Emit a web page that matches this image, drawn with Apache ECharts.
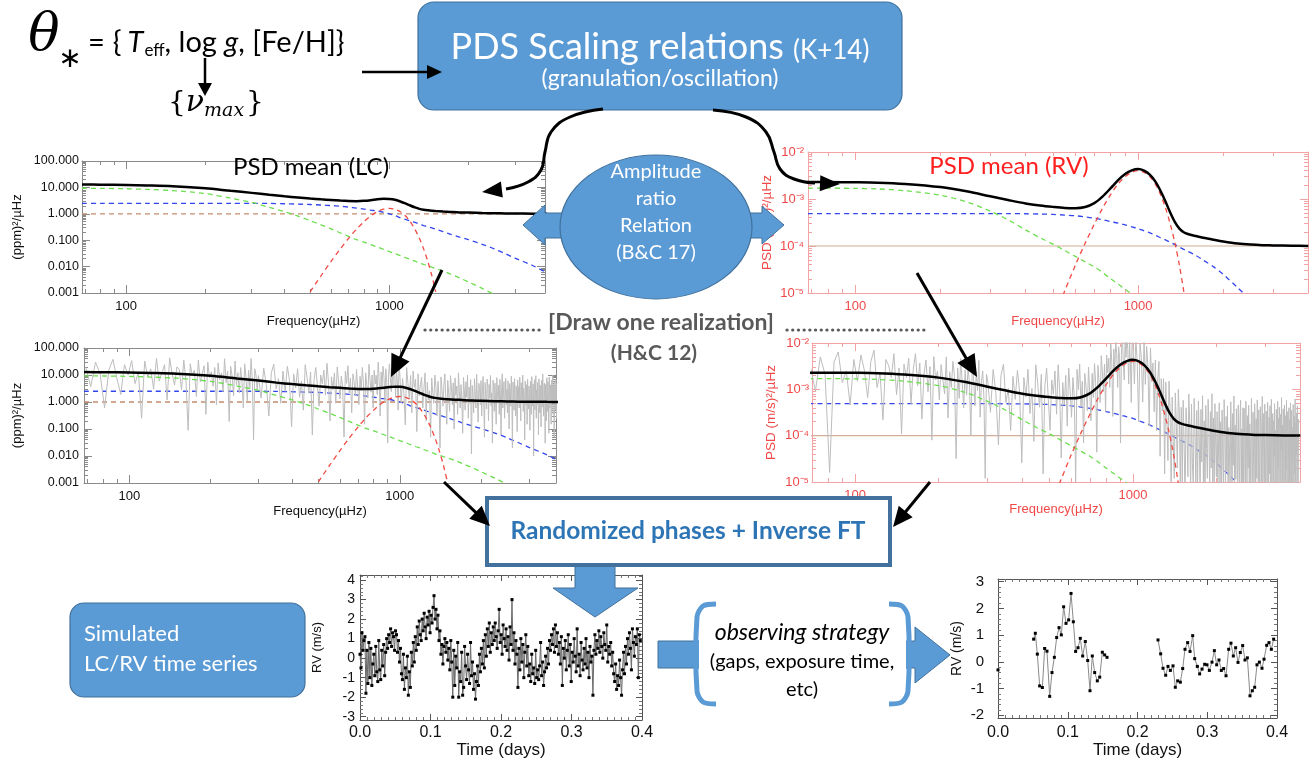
<!DOCTYPE html>
<html>
<head>
<meta charset="utf-8">
<script src="https://cdn.jsdelivr.net/npm/echarts@6/dist/echarts.min.js"></script>
<style>
  html, body { margin: 0; padding: 0; background: #fff; }
  #chart { width: 1315px; height: 762px; }
</style>
</head>
<body>
<div id="chart"></div>
<script>
// ---------------- Model power spectral densities (frequency in µHz) ----------------
const modelFreq = [68, 80, 100, 120, 150, 200, 250, 300, 350, 400, 450, 500, 550, 600, 650, 700, 750, 800, 850, 900,
  950, 1000, 1050, 1100, 1150, 1200, 1250, 1300, 1350, 1400, 1450, 1500, 1600, 1700, 1850, 2000, 2250, 2500, 2750, 3000, 3500, 4000];

// Photometric (LC) model, (ppm)^2/µHz
const lcTotal = [12.8, 12.7, 12.4, 11.9, 11.1, 9.3, 7.4, 6.2, 5.22, 4.6, 4.15, 3.80, 3.53, 3.34, 3.17, 3.06, 3.02, 3.09, 3.28, 3.54,
  3.68, 3.64, 3.39, 2.93, 2.48, 2.06, 1.75, 1.54, 1.42, 1.35, 1.30, 1.27, 1.22, 1.18, 1.13, 1.11, 1.07, 1.048, 1.032, 1.021, 1.011, 1.006];
const lcGranulation = [9.3, 9.2, 8.9, 8.4, 7.6, 5.8, 3.9, 2.7, 1.75, 1.2, 0.82, 0.55, 0.38, 0.27, 0.19, 0.14, 0.105, 0.085, 0.068, 0.055,
  0.045, 0.037, 0.031, 0.026, 0.022, 0.019, 0.016, 0.014, 0.012, 0.0107, 0.0095, 0.0085, 0.0068, 0.0053, 0.0037, 0.0026, 0.0015, 0.00088, 0.00058, 0.0004, 0.0002, 0.00011];
const lcActivity = [2.5, 2.5, 2.5, 2.5, 2.5, 2.5, 2.5, 2.5, 2.47, 2.4, 2.33, 2.25, 2.15, 2.05, 1.93, 1.8, 1.65, 1.5, 1.37, 1.28,
  1.14, 1.0, 0.87, 0.7, 0.62, 0.54, 0.47, 0.41, 0.36, 0.32, 0.29, 0.26, 0.21, 0.17, 0.13, 0.104, 0.07, 0.047, 0.031, 0.021, 0.011, 0.0055];
const oscFreq = [500, 550, 600, 650, 700, 750, 800, 850, 900, 950, 1000, 1050, 1100, 1150, 1200, 1250, 1300, 1350, 1400, 1450, 1500];
const lcOscillation = [0.0011, 0.0045, 0.0155, 0.046, 0.118, 0.26, 0.5, 0.84, 1.2, 1.49, 1.6, 1.49, 1.2, 0.84, 0.5, 0.26, 0.118, 0.046, 0.0155, 0.0045, 0.0011];
const whiteFreq = [68, 4000];
const lcWhiteNoise = [1.0, 1.0];

// Radial-velocity (RV) model, (m/s)^2/µHz
const rvTotal = [2.29e-3, 2.29e-3, 2.27e-3, 2.23e-3, 2.09e-3, 1.79e-3, 1.44e-3, 1.14e-3, 9.4e-4, 8.05e-4, 7.28e-4, 6.8e-4, 6.47e-4, 6.39e-4, 6.76e-4,
  8.16e-4, 1.14e-3, 1.70e-3, 2.52e-3, 3.39e-3, 4.06e-3, 4.34e-3, 4.01e-3, 3.29e-3, 2.37e-3, 1.50e-3, 8.85e-4, 5.1e-4, 3.22e-4, 2.34e-4,
  1.96e-4, 1.8e-4, 1.63e-4, 1.5e-4, 1.36e-4, 1.25e-4, 1.13e-4, 1.07e-4, 1.04e-4, 1.03e-4, 1.01e-4, 1.005e-4];
const rvGranulation = [1.7e-3, 1.7e-3, 1.68e-3, 1.64e-3, 1.5e-3, 1.2e-3, 8.5e-4, 5.5e-4, 3.5e-4, 2.2e-4, 1.5e-4, 1.1e-4, 8.0e-5, 6.0e-5, 4.6e-5,
  3.6e-5, 2.7e-5, 2.0e-5, 1.55e-5, 1.2e-5, 9.5e-6, 7.5e-6, 6.0e-6];
const rvActivity = [4.9e-4, 4.9e-4, 4.9e-4, 4.9e-4, 4.9e-4, 4.9e-4, 4.9e-4, 4.9e-4, 4.88e-4, 4.85e-4, 4.78e-4, 4.7e-4, 4.56e-4, 4.4e-4, 4.15e-4,
  3.9e-4, 3.6e-4, 3.3e-4, 3.05e-4, 2.8e-4, 2.55e-4, 2.35e-4, 2.1e-4, 1.9e-4, 1.7e-4, 1.5e-4, 1.35e-4, 1.2e-4, 1.07e-4, 9.5e-5,
  8.5e-5, 7.7e-5, 6.3e-5, 5.0e-5, 3.6e-5, 2.5e-5, 1.3e-5, 7e-6];
const rvOscillation = [2.6e-6, 1.1e-5, 3.9e-5, 1.15e-4, 2.9e-4, 6.5e-4, 1.25e-3, 2.1e-3, 3.0e-3, 3.7e-3, 4.0e-3, 3.7e-3, 3.0e-3, 2.1e-3, 1.25e-3,
  6.5e-4, 2.9e-4, 1.15e-4, 3.9e-5, 1.1e-5, 2.6e-6];
const rvWhiteNoise = [1e-4, 1e-4];

// ---------------- One realization of each spectrum (three frequency blocks) ----------------
const realBlocks = [{ start: 69, step: 3 }, { start: 300, step: 7 }, { start: 1000, step: 12 }];

const lcRealLow = [20, 3.7, 30, 11, 0.6, 15, 38, 7.4, 1.9, 24, 10,
  34, 4.8, 13, 0.25, 33, 8.4, 17, 3, 41, 6, 12, 24, 1.2, 43, 11, 4.2, 20,
  16, 2.8, 36, 6.1, 0.09, 26, 9.5, 15, 1.6, 36, 5.5, 11, 22, 0.35, 30, 7.7, 13,
  3.8, 19, 0.8, 28, 6.6, 12, 2.4, 40, 5.2, 14, 0.19, 21, 9, 1.7, 33, 4.3,
  12, 2.2, 19, 5.3, 0.6, 26, 8.2, 1.1, 15, 3.4, 41, 6, 0.04, 17, 10, 2.6];
const lcRealMid = [9.5, 1.4, 18, 4.4, 0.3, 12, 25, 3.1,
  7.3, 0.9, 14, 2.5, 21, 6.2, 0.12,
  11, 3.3, 17, 1.5, 5.9, 0.5, 24, 8, 2.1, 13, 0.06, 6.8, 19, 3.9,
  0.7, 10, 4.7, 15, 1.8, 27, 5.3, 0.2, 8.6, 2.9, 12, 0.9, 20, 6.1,
  1.3, 9.2, 3.6, 0.05, 14, 4.9, 22, 2.2, 7.7, 0.4, 11, 5.6, 1.7, 16,
  3.2, 0.8, 8.9, 2.6, 19, 5.1, 0.15, 12, 4.2, 1.4, 25, 7, 2.3, 10,
  0.6, 15, 4.6, 9.8, 1.9, 30, 6.4, 0.3, 13, 3.7, 21, 8.2, 1.1, 17,
  5.3, 0.03, 11, 26, 7.1, 2.4, 18, 4.3, 33, 9.5, 1.5, 14, 6.2, 0.5, 22];
const lcRealHigh = [12, 0.9, 7.4, 2.1, 0.14, 19, 4.8, 1.3, 9.6,
  0.4, 14, 3.5, 6.9, 0.08, 11, 1.7, 4.4,
  8.2, 0.6, 3.1, 12, 0.2, 5.4, 1.2, 2.6,
  0.05, 7.7, 2.3, 0.9, 10, 3.8, 0.3, 5.9, 1.6, 0.02, 8.5, 2.9, 0.7, 4.6, 11, 1.1, 0.15,
  6.3, 2.1, 0.45, 9.4, 3.3, 0.8, 5.1, 0.1, 7.8, 1.8, 3.9, 0.35, 12, 2.5, 0.6, 4.4, 1.3,
  0.07, 8.1, 2.8, 0.5, 5.6, 1.5, 9.9, 0.25, 3.6, 0.9, 6.8, 0.012, 4.1, 1.9, 0.4, 7.3, 2.4, 0.6, 10.5, 1.2, 0.18, 4.9, 3.1, 0.8, 6.2,
  0.3, 2.7, 8.8, 1.0, 0.05, 5.3, 1.7, 0.55, 7.1, 3.4, 0.2, 4.5, 1.4, 9.6, 0.7, 2.2, 0.03, 6.4, 3.8, 0.45, 5.0, 1.1, 0.15, 8.0, 2.5,
  0.9, 4.2, 0.35, 6.9, 1.6, 0.06, 3.5, 11, 0.6, 2.0, 5.7, 0.25, 1.3, 7.5, 0.8, 3.0,
  0.4, 6.1, 1.9, 0.1, 4.8, 2.6, 0.7, 9.1, 1.2, 0.02, 5.5, 3.2, 0.5, 7.4, 1.5, 0.3, 4.0, 2.1, 0.08, 6.6, 1.0, 3.7, 0.6, 8.3, 2.3,
  0.2, 5.2, 1.4, 0.9, 10, 0.45, 3.3, 1.8, 0.04, 6.0, 2.7, 0.75, 4.4, 0.15, 7.0, 1.1,
  0.55, 3.9, 1.6, 0.09, 5.8, 2.2, 0.35, 8.7, 1.3, 0.7, 4.6, 0.01, 3.0, 6.7, 0.5, 1.9, 9.4, 0.25, 2.8, 0.8, 5.3, 1.2, 0.06, 7.2, 3.4,
  0.4, 4.1, 1.7, 0.12, 6.3, 2.4, 0.65, 11, 1.0, 0.3, 3.6, 5.0, 0.85, 0.03, 4.5,
  1.5, 0.2, 7.9, 2.6, 0.45, 5.6, 1.1, 0.07, 8.4, 3.2, 0.6, 4.3, 1.8, 0.15, 6.5, 2.0, 0.9, 9.8, 0.35, 3.7, 1.4, 0.05, 5.4, 2.9, 0.5,
  7.0, 1.2, 0.25, 4.8, 2.3, 0.75, 10.2, 0.4, 3.1, 1.6, 0.1, 6.1, 2.5, 0.8, 4.0];

// RV realization, stored in units of 1e-4 (m/s)^2/µHz
const RV_REAL_UNIT = 1e-4;
const rvRealLow = [32, 9.2, 50, 21, 0.16, 39, 64, 14, 25, 4.6, 44,
  15, 55, 26, 6.6, 40, 70, 11, 22, 2.2, 44, 33, 18, 59, 7.7, 29, 1.1, 35,
  18, 47, 4.9, 27, 59, 12, 37, 2.3, 21, 43, 8.8, 31, 0.8, 51, 16, 25, 5.9,
  34, 16, 8, 50, 2.4, 24, 11, 40, 19, 0.32, 29, 6.4, 46, 14, 4, 26,
  7.5, 29, 14, 1.0, 35, 17.5, 4.4, 24, 9.4, 42, 2.5, 15, 25, 6.2, 0.12, 21];
const rvRealMid = [16, 3.2, 27, 8.4, 0.63, 20, 35, 5.2,
  10.4, 1.3, 19, 6.1, 26, 8.7, 0.26,
  18, 6.8, 27, 3, 10.5, 0.75, 34, 14, 4.1, 21, 0.15, 12, 29, 6,
  1.3, 16, 7.8, 25, 2.9, 34, 8.5, 0.33, 14, 4.6, 20, 1.6, 29, 9.8,
  2.5, 18, 7, 0.1, 27, 9.8, 35, 4.2, 15, 0.7, 22, 11, 3.5, 30,
  8.1, 2.1, 22, 6.7, 36, 14, 0.44, 33, 14, 5.2, 53, 24, 9, 35,
  3.3, 55, 23, 47, 11, 97, 39, 2.6, 74, 26, 107, 59, 11, 83,
  48, 0.7, 80, 135, 38.5, 16, 113, 49, 168, 72, 13, 108, 35, 5.2, 139];
const rvRealHigh = [87, 13, 130, 37, 2, 100, 48, 5.3, 122,
  12.8, 84, 31, 1.6, 78, 14.7, 37, 3.3,
  43, 1.3, 17, 40, 0.36, 17, 3.4, 17,
  0.15, 14.4, 2.4, 0.29, 15, 3.6, 0.056, 6.8, 0.74, 0.12, 8.4, 1.9, 0.2, 10, 3.1, 0.076, 4.1,
  0.1, 5.8, 0.66, 0.033, 4, 1.5, 0.13, 7.9, 2.1, 0.05, 4.8, 0.25, 0.08, 6.4, 1.2, 0.066, 3.5,
  0.067, 5.6, 0.93, 0.04, 3.7, 0.27, 7.3, 0.08, 2.1, 0.027, 4.5, 0.53, 0.12, 6.1, 1.5, 0.053, 3.3, 0.2, 8, 0.093, 2.4, 0.04, 4.9, 0.67, 0.13,
  3.3, 0.046, 0.69, 5.1, 0.092, 2.0, 0.023, 3.6, 0.35, 0.069, 6.0, 1.15, 0.058, 2.6, 0.17, 4.4, 0.035, 1.5, 0.52, 0.08,
  5.4, 1.0, 0.023, 3.0, 0.23, 7.2, 0.058, 1.7, 0.115, 3.8, 0.8, 0.035, 4.6, 0.29, 0.069, 2.4, 5.8, 0.046, 1.4, 0.1, 4.0,
  0.05, 3.9, 0.7, 0.03, 5.6, 1.3, 0.09, 2.7, 0.2, 4.5, 0.04, 1.8, 0.5, 0.07, 6.4, 1.0, 0.02, 3.2, 0.3, 0.06,
  4.9, 1.5, 0.04, 2.3, 0.12, 5.9, 0.8, 0.03, 3.6, 0.25, 0.08, 4.2, 1.2, 0.05, 2.0, 7.0, 0.1, 0.6, 3.0, 0.04, 4.8,
  0.3, 0.06, 3.4, 1.1, 0.03, 5.2, 0.45, 0.08, 2.5, 0.15, 4.4, 0.04, 1.6, 6.1, 0.07, 0.9, 3.0, 0.02, 2.1, 0.35,
  4.9, 0.05, 1.3, 0.1, 3.7, 0.6, 0.03, 5.5, 0.2, 2.4, 0.06, 4.1, 1.0, 0.04, 2.9, 0.5, 6.6, 0.09, 1.7, 0.03,
  3.8, 0.7, 0.05, 4.6, 1.4, 0.03, 2.7, 0.18, 5.8, 0.08, 1.2, 3.3, 0.04, 0.6, 4.0, 0.1, 2.2, 0.02, 5.1, 0.9,
  0.06, 3.5, 0.3, 1.5, 0.04, 4.7, 0.8, 0.07, 2.6, 0.15, 6.2, 0.05, 1.9, 0.4, 3.1, 0.03, 4.4, 1.1, 0.08, 2.3];

// ---------------- Simulated RV time series (uniform cadence, days) ----------------
const simCadence = 0.0014;
const simRV = [0.2, -0.5, 1.3, 0.4, 0.9, 1.1, -1.8, 0.4, -1.3, 0.8,
  -1.0, 0.5, -1.4, -0.3, 0.2, -0.9, 0.6, -0.7, -1.2, 0.9,
  -0.6, -1.1, 0.4, -0.4, 0.7, -0.9, 0.3, 1.0, 0.5, 1.2,
  0.8, 1.5, 0.6, 1.3, 1.1, 0.4, 1.4, 1.2, 0.3, 0.9,
  -0.2, 0.5, -0.8, -1.1, 0.2, -1.6, -0.5, -1.0, 0.1, -1.9,
  -0.7, -1.5, 0.3, -0.4, 0.8, -0.2, 1.1, 0.4, 1.6, 0.7,
  1.9, 1.2, 0.9, 2.0, 1.4, 2.3, 1.6, 1.0, 2.1, 1.7,
  2.4, 1.3, 2.2, 1.8, 2.6, 3.2, 2.0, 2.5, 1.5, 2.2,
  0.9, 1.4, 0.2, 0.7, -0.3, 0.6, 1.0, 0.3, 0.8, -0.1,
  0.5, -0.6, 0.9, -0.2, -2.0, 0.4, -1.4, 0.1, -0.5, 0.8,
  -2.0, -0.7, -1.2, 0.3, -1.9, -1.5, 0.6, -0.4, -1.1, 0.2,
  -0.6, -1.3, 0.8, -0.9, -0.2, -1.6, -0.8, -2.1, -1.2, -0.4,
  -1.4, 0.2, -0.7, 0.5, -0.3, 0.9, -0.5, 1.2, 0.1, 1.5,
  0.6, 1.8, 0.3, 1.3, 0.7, 1.6, 0.9, 1.8, 1.1, 0.5,
  1.4, 2.5, 0.8, 1.2, 0.2, 1.7, 1.0, 0.6, 1.5, 0.4,
  1.1, -0.1, 1.6, 0.7, 3.0, 0.4, 1.3, -0.3, 0.9, 0.2,
  -1.5, 0.5, -0.6, 1.0, -0.2, 0.7, -1.0, 0.3, 1.2, -0.4,
  0.6, -0.9, -0.3, -1.2, 0.2, -0.8, -0.5, -1.3, 0.4, -1.0,
  -0.6, -1.1, -0.4, 0.8, -0.9, -0.2, -1.4, -0.7, 0.1, -0.5,
  0.5, -0.3, 0.9, 0.4, 1.2, 0.7, 1.5, 0.3, 1.7, 0.6,
  1.3, 0.2, 0.8, -0.3, 1.1, -1.4, 0.5, 0.0, 0.9, -0.6,
  0.4, 1.2, -0.4, 0.7, -1.2, 0.3, -0.2, 1.0, 0.1, -0.7,
  1.5, -0.4, 0.2, -0.9, 0.8, -0.1, -0.6, 0.5, -0.3, 1.0,
  -0.5, 0.3, -1.0, 0.6, -0.2, 0.1, -1.9, 0.4, 1.2, 0.2,
  0.9, 0.5, 1.4, 0.3, 1.1, 0.6, 0.0, 1.3, 0.7, 0.4,
  1.7, -0.2, 0.6, 0.2, 0.8, -0.4, 0.3, -0.8, -1.2, -0.3,
  -1.6, -0.9, -1.4, -0.1, -1.0, -1.9, -0.6, 0.3, -0.8, 0.6,
  -0.3, 1.0, 0.2, 1.3, 0.5, -0.6, 1.5, 0.8, 0.1, 1.1,
  0.7, 1.5, -1.0, 1.2, 0.9];

// ---------------- Time series after the observing strategy ----------------
const obsT0 = [0.0];
const obsV0 = [-0.30];
const obsT1 = [0.0511, 0.0535, 0.0564, 0.0597, 0.0636, 0.0669, 0.0702, 0.0741, 0.0774, 0.0808, 0.0841, 0.0875, 0.0908, 0.0941, 0.0975, 0.1013,
  0.1047, 0.108, 0.1113, 0.1147, 0.118, 0.1214, 0.1252, 0.1286, 0.1319, 0.1352, 0.1386, 0.1424, 0.1458, 0.1496, 0.1529, 0.1563];
const obsV1 = [0.85, 1.07, 0.29, -0.90, -0.96, 0.50, 0.40, -1.29, -0.40, 0.17, 0.91, 1.28, 1.01, 2.06, 1.44, 1.57,
  2.56, 1.50, 0.39, 0.53, 0.88, 0.22, 0.76, 0.05, -1.08, 0.22, -0.40, -0.71, -0.57, 0.36, 0.26, 0.17];
const obsT2 = [0.2294, 0.2332, 0.2366, 0.2404, 0.2437, 0.2471, 0.2509, 0.2542, 0.2576, 0.2614, 0.2648, 0.2681, 0.2719, 0.2753, 0.2791, 0.282,
  0.2858, 0.2891, 0.2925, 0.2963, 0.2996, 0.303, 0.3068, 0.3102, 0.3135, 0.3168, 0.3202, 0.3235, 0.3269, 0.3307, 0.334, 0.3374,
  0.3407, 0.3441, 0.3474, 0.3508, 0.3541, 0.3575, 0.3613, 0.3646, 0.368, 0.3713, 0.3747, 0.3785, 0.3814, 0.3852, 0.3885, 0.3919, 0.3952];
const obsV2 = [0.82, 0.30, -0.24, -0.50, -0.17, -0.32, -0.15, -0.95, -0.71, -0.76, -0.25, 0.47, 0.72, 0.39, 0.98, 0.12,
  -0.17, -0.45, -0.27, -0.09, -0.11, -0.32, -0.01, 0.42, -0.11, 0.07, -0.32, -0.25, -0.52, 0.47, 0.70, 0.22,
  0.53, -0.02, 0.35, 0.61, 0.07, 0.15, -1.27, -1.08, -0.95, -0.11, -0.01, -0.24, 0.10, 0.62, 0.72, 0.47, 0.85];

// ---------------- Axis tick values ----------------
const freqLabelValues = [100, 1000];
const freqTickValues = [70, 80, 90, 100, 200, 300, 400, 500, 600, 700, 800, 900, 1000, 2000, 3000];
const lcPowerLabels = [0.001, 0.01, 0.1, 1, 10, 100];
const rvPowerLabels = [1e-5, 1e-4, 1e-3, 1e-2];

// ---------------- helpers ----------------
const PLOT_FONT = '"Liberation Sans", Arial, Helvetica, sans-serif';
const LATO = 'Lato, "Open Sans", sans-serif';
const BLUE_FILL = '#5B9BD5', BLUE_EDGE = '#41719C';
const LC_FRAME = '#8a8a8a', RV_FRAME = '#F3A3A3', RV_TEXT = '#F04848';
const SUP = { '-': '\u207B', '0': '\u2070', '1': '\u00B9', '2': '\u00B2', '3': '\u00B3', '4': '\u2074', '5': '\u2075', '6': '\u2076', '7': '\u2077', '8': '\u2078', '9': '\u2079' };
const pow10Label = v => '10' + String(Math.round(Math.log10(v))).split('').map(c => SUP[c]).join('');

function decadeTicks(labels) {
  const out = [];
  labels.forEach((d, i) => {
    if (i < labels.length - 1) { for (let m = 1; m < 10; m++) out.push(+(d * m).toPrecision(3)); }
    else out.push(d);
  });
  return out;
}
function pairs(xs, ys, scale = 1) { return ys.map((y, i) => [xs[i], y * scale]); }
function realization(blocks, scale = 1) {
  const out = [];
  blocks.forEach((vals, b) => vals.forEach((v, i) => out.push([realBlocks[b].start + i * realBlocks[b].step, v * scale])));
  return out;
}

const xAxes = [], yAxes = [];
function push(list, cfg) { list.push(cfg); return list.length - 1; }

// Log axis with inward minor ticks, longer decade ticks, and a mirrored copy on the opposite side
function logFrame(list, gi, isX, range, o) {
  const base = { gridIndex: gi, type: 'log', logBase: 10, min: range[0], max: range[1], splitLine: { show: false }, minorTick: { show: false } };
  const pA = isX ? 'bottom' : 'left', pB = isX ? 'top' : 'right';
  const main = push(list, Object.assign({}, base, {
    position: pA,
    axisLine: { show: true, onZero: false, lineStyle: { color: o.frame, width: 1 } },
    axisTick: { show: true, inside: true, length: 4, customValues: o.ticks, lineStyle: { color: o.frame } },
    axisLabel: { show: true, customValues: o.labels, formatter: o.formatter, color: o.labelColor, fontFamily: PLOT_FONT, fontSize: o.fontSize, margin: o.margin },
    name: o.name, nameLocation: 'middle', nameGap: o.nameGap, nameRotate: isX ? 0 : 90,
    nameTextStyle: { color: o.labelColor, fontFamily: PLOT_FONT, fontSize: o.nameSize }
  }));
  push(list, Object.assign({}, base, {
    position: pB,
    axisLine: { show: true, onZero: false, lineStyle: { color: o.frame, width: 1 } },
    axisTick: { show: true, inside: true, length: 4, customValues: o.ticks, lineStyle: { color: o.frame } },
    axisLabel: { show: false }
  }));
  [pA, pB].forEach(p => push(list, Object.assign({}, base, {
    position: p,
    axisLine: { show: false, onZero: false },
    axisTick: { show: true, inside: true, length: 8, customValues: o.labels, lineStyle: { color: o.frame } },
    axisLabel: { show: false }
  })));
  return main;
}

// Linear axis with inward ticks + minor ticks, mirrored on the opposite side
function valueFrame(list, gi, isX, range, o) {
  const base = {
    gridIndex: gi, type: 'value', min: range[0], max: range[1], splitNumber: o.split, splitLine: { show: false },
    axisLine: { show: true, onZero: false, lineStyle: { color: '#555', width: 1 } },
    axisTick: { show: true, inside: true, length: 6, lineStyle: { color: '#555' } },
    minorTick: { show: true, splitNumber: o.minor, length: 3, lineStyle: { color: '#777' } }
  };
  const main = push(list, Object.assign({}, base, {
    position: isX ? 'bottom' : 'left',
    axisLabel: { formatter: o.formatter, color: '#111', fontFamily: PLOT_FONT, fontSize: o.fontSize, margin: o.margin },
    name: o.name, nameLocation: 'middle', nameGap: o.nameGap, nameRotate: isX ? 0 : 90,
    nameTextStyle: { color: '#111', fontFamily: PLOT_FONT, fontSize: o.nameSize }
  }));
  push(list, Object.assign({}, base, { position: isX ? 'top' : 'right', axisLabel: { show: false } }));
  return main;
}

const grids = [
  { left: 82, top: 161, width: 463, height: 132 },   // LC mean PSD
  { left: 808, top: 152, width: 500, height: 141 },  // RV mean PSD
  { left: 84, top: 348, width: 472, height: 135 },   // LC realization
  { left: 812, top: 343, width: 488, height: 139 },  // RV realization
  { left: 360, top: 575, width: 282, height: 145 },  // simulated time series
  { left: 998, top: 579, width: 279, height: 139 }   // observed time series
].map(g => Object.assign({ containLabel: false, outerBoundsMode: 'none' }, g));

const freqFmt = v => String(Math.round(v));
const lcFmt = v => v.toFixed(3);
const intFmt = v => (Math.abs(v - Math.round(v)) < 1e-6 ? String(Math.round(v)) : '');

function freqAxis(gi, range, color, gap) {
  return logFrame(xAxes, gi, true, range, {
    frame: color === 'red' ? RV_FRAME : LC_FRAME, labelColor: color === 'red' ? RV_TEXT : '#111',
    ticks: freqTickValues, labels: freqLabelValues, formatter: freqFmt, fontSize: 13, margin: 7,
    name: 'Frequency(µHz)', nameGap: gap, nameSize: 13
  });
}

const x0 = freqAxis(0, [68, 3900], 'black', 22);
const y0 = logFrame(yAxes, 0, false, [0.001, 100], { frame: LC_FRAME, labelColor: '#111', ticks: decadeTicks(lcPowerLabels), labels: lcPowerLabels, formatter: lcFmt, fontSize: 12.5, margin: 3, name: '(ppm)²/µHz', nameGap: 58, nameSize: 13 });
const x1 = freqAxis(1, [68, 3990], 'red', 22);
const y1 = logFrame(yAxes, 1, false, [1e-5, 1e-2], { frame: RV_FRAME, labelColor: RV_TEXT, ticks: decadeTicks(rvPowerLabels), labels: rvPowerLabels, formatter: pow10Label, fontSize: 13, margin: 4, name: 'PSD (m/s)²/µHz', nameGap: 34, nameSize: 13.5 });
const x2 = freqAxis(2, [68, 3780], 'black', 22);
const y2 = logFrame(yAxes, 2, false, [0.001, 100], { frame: LC_FRAME, labelColor: '#111', ticks: decadeTicks(lcPowerLabels), labels: lcPowerLabels, formatter: lcFmt, fontSize: 12.5, margin: 5, name: '(ppm)²/µHz', nameGap: 60, nameSize: 13 });
const x3 = freqAxis(3, [70, 3990], 'red', 21);
const y3 = logFrame(yAxes, 3, false, [1e-5, 1e-2], { frame: RV_FRAME, labelColor: RV_TEXT, ticks: decadeTicks(rvPowerLabels), labels: rvPowerLabels, formatter: pow10Label, fontSize: 13, margin: 3, name: 'PSD (m/s)²/µHz', nameGap: 34, nameSize: 13.5 });
const x4 = valueFrame(xAxes, 4, true, [0, 0.4], { split: 4, minor: 10, formatter: v => v.toFixed(1), fontSize: 16, margin: 5, name: 'Time (days)', nameGap: 19, nameSize: 17 });
const y4 = valueFrame(yAxes, 4, false, [-3.17, 4.26], { split: 7, minor: 5, formatter: intFmt, fontSize: 14, margin: 5, name: 'RV (m/s)', nameGap: 36, nameSize: 13 });
const x5 = valueFrame(xAxes, 5, true, [0, 0.4], { split: 4, minor: 10, formatter: v => v.toFixed(1), fontSize: 16, margin: 7, name: 'Time (days)', nameGap: 19, nameSize: 17 });
const y5 = valueFrame(yAxes, 5, false, [-2.1, 3.1], { split: 5, minor: 5, formatter: intFmt, fontSize: 15, margin: 14, name: 'RV (m/s)', nameGap: 34, nameSize: 14 });

// ---------------- series ----------------
const COL = { green: '#6BDE4E', blue: '#3346EE', red: '#F04A42', brown: '#C48C6C', gray: '#BDBDBD' };
function psdLine(xi, yi, data, color, opt = {}) {
  return {
    type: 'line', xAxisIndex: xi, yAxisIndex: yi, data, symbol: 'none', showSymbol: false, clip: true, silent: true,
    smooth: opt.smooth === undefined ? 0.3 : opt.smooth,
    lineStyle: { color, width: opt.width || 1.3, type: opt.dash === false ? 'solid' : [5, 4] },
    z: opt.z || 2
  };
}
const series = [];
function modelSet(xi, yi, m) {
  series.push(psdLine(xi, yi, pairs(whiteFreq, m.white), m.whiteColor, { dash: m.whiteDash, width: m.whiteWidth, smooth: false }));
  series.push(psdLine(xi, yi, pairs(modelFreq, m.activity), COL.blue));
  if (m.real) series.push(psdLine(xi, yi, m.real, COL.gray, { dash: false, width: 1, smooth: false }));
  series.push(psdLine(xi, yi, pairs(modelFreq, m.gran), COL.green));
  series.push(psdLine(xi, yi, pairs(oscFreq, m.osc), COL.red));
  series.push(psdLine(xi, yi, pairs(modelFreq, m.total), '#000', { dash: false, width: 2.5 }));
}
const lcModel = { total: lcTotal, gran: lcGranulation, activity: lcActivity, osc: lcOscillation, white: lcWhiteNoise, whiteColor: COL.brown, whiteDash: true, whiteWidth: 1.3 };
const rvModel = { total: rvTotal, gran: rvGranulation, activity: rvActivity, osc: rvOscillation, white: rvWhiteNoise, whiteColor: '#D2AE98', whiteDash: false, whiteWidth: 1.2 };
modelSet(x0, y0, lcModel);
modelSet(x1, y1, rvModel);
modelSet(x2, y2, Object.assign({}, lcModel, { real: realization([lcRealLow, lcRealMid, lcRealHigh]) }));
modelSet(x3, y3, Object.assign({}, rvModel, { real: realization([rvRealLow, rvRealMid, rvRealHigh], RV_REAL_UNIT) }));

function tsLine(xi, yi, data, lineColor) {
  return {
    type: 'line', xAxisIndex: xi, yAxisIndex: yi, data, symbol: 'rect', symbolSize: 3, showSymbol: true, showAllSymbol: true,
    clip: true, silent: true, itemStyle: { color: '#000' }, lineStyle: { color: lineColor, width: 1 }
  };
}
series.push(tsLine(x4, y4, simRV.map((v, i) => [i * simCadence, v]), '#6a6a6a'));
series.push(tsLine(x5, y5, pairs(obsT0, obsV0), '#8a8a8a'));
series.push(tsLine(x5, y5, pairs(obsT1, obsV1), '#8a8a8a'));
series.push(tsLine(x5, y5, pairs(obsT2, obsV2), '#8a8a8a'));

// ---------------- diagram graphics ----------------
const mctx = document.createElement('canvas').getContext('2d');
function tw(t, font) { mctx.font = font; return mctx.measureText(t).width; }
function fontOf(p) { return `${p.style || 'normal'} ${p.weight || 'normal'} ${p.size}px ${p.family || LATO}`; }
function textEl(x, y, text, font, fill, align, z) {
  return { type: 'text', z: z || 120, x, y, silent: true,
    style: { text, font, fill: fill || '#000', textAlign: align || 'center', textVerticalAlign: 'middle', align: align || 'center', verticalAlign: 'middle' } };
}
function txt(x, y, text, size, o = {}) { return textEl(x, y, text, fontOf(Object.assign({ size }, o)), o.fill, o.align, o.z); }
// run of text pieces sharing one baseline
function run(x, baseline, parts, z, center) {
  const w = parts.reduce((s, p) => s + tw(p.text, fontOf(p)) + (p.kern || 0), 0);
  let cx = center ? x - w / 2 : x;
  const els = [];
  parts.forEach(p => {
    const f = fontOf(p);
    els.push(textEl(cx + (p.dx || 0), baseline + (p.dy || 0) - 0.3 * p.size, p.text, f, p.fill, 'left', z));
    cx += tw(p.text, f) + (p.kern || 0);
  });
  return els;
}
function head(tx, ty, fx, fy, len, hw, fill, z) {
  const dx = tx - fx, dy = ty - fy, d = Math.hypot(dx, dy), ux = dx / d, uy = dy / d;
  const bx = tx - ux * len, by = ty - uy * len;
  return { type: 'polygon', z, silent: true, shape: { points: [[tx, ty], [bx - uy * hw, by + ux * hw], [bx + uy * hw, by - ux * hw]] }, style: { fill } };
}
function arrow(x1, y1, x2, y2, w, len, hw, z) {
  const dx = x2 - x1, dy = y2 - y1, d = Math.hypot(dx, dy);
  return [
    { type: 'line', z, silent: true, shape: { x1, y1, x2: x2 - dx / d * len * 0.7, y2: y2 - dy / d * len * 0.7 }, style: { stroke: '#000', lineWidth: w } },
    head(x2, y2, x1, y1, len, hw, '#000', z)
  ];
}
function curvedArrow(points, tip, w, len, hw, z) {
  const last = points[points.length - 1];
  return [
    { type: 'polyline', z, silent: true, shape: { points, smooth: 0.45 }, style: { stroke: '#000', lineWidth: w, fill: null } },
    head(tip[0], tip[1], last[0], last[1], len, hw, '#000', z)
  ];
}

const G = [];
// parameter set and nu_max
G.push(txt(44, 36, 'θ', 52, { family: '"DejaVu Serif", serif', style: 'italic' }));
G.push(txt(70, 60, '∗', 28, { family: '"DejaVu Sans", sans-serif' }));
G.push(...run(88, 51, [
  { text: '=', size: 29, kern: 8 },
  { text: '{', size: 29, kern: 6 },
  { text: 'T', size: 29, style: 'italic', kern: 1 },
  { text: 'eff', size: 17, dy: 5 },
  { text: ', log ', size: 29 },
  { text: 'g', size: 29, style: 'italic' },
  { text: ', [Fe/H]}', size: 29 }
], 120));
G.push(...arrow(205, 58, 205, 96, 2.5, 13, 7, 120));
G.push(...run(168, 112, [
  { text: '{', size: 28, family: '"DejaVu Serif", serif' },
  { text: 'ν', size: 30, family: '"DejaVu Serif", serif', style: 'italic' },
  { text: 'max', size: 19, family: '"DejaVu Serif", serif', style: 'italic', dy: 5, kern: 2 },
  { text: '}', size: 28, family: '"DejaVu Serif", serif' }
], 120));
G.push(...arrow(362, 72, 442, 72, 2.5, 15, 7, 120));

// scaling-relations box
G.push({ type: 'rect', z: 110, silent: true, shape: { x: 418, y: 2, width: 484, height: 108, r: 16 }, style: { fill: BLUE_FILL, stroke: BLUE_EDGE, lineWidth: 1.2 } });
G.push(...run(660, 58, [{ text: 'PDS Scaling relations ', size: 36, fill: '#fff' }, { text: '(K+14)', size: 26, fill: '#fff' }], 120, true));
G.push(txt(660, 79, '(granulation/oscillation)', 23, { fill: '#fff' }));

// curved arrows to the two mean spectra
G.push(...curvedArrow([[603, 109], [570, 117], [551, 132], [545, 152], [541, 170], [528, 182], [506, 189]], [482, 192], 3, 20, 8, 120));
G.push(...curvedArrow([[713, 110], [746, 117], [766, 132], [774, 152], [780, 169], [794, 179], [815, 183]], [840, 184], 3, 20, 8, 120));

// amplitude-ratio ellipse with its double arrow
G.push({ type: 'polygon', z: 110, silent: true, shape: { points: [[523, 225], [545, 205], [545, 213], [762, 213], [762, 206], [784, 225], [762, 244], [762, 238], [545, 238], [545, 245]] }, style: { fill: BLUE_FILL, stroke: BLUE_EDGE, lineWidth: 1 } });
G.push({ type: 'circle', z: 111, silent: true, x: 656, y: 227, scaleY: 72 / 96, shape: { cx: 0, cy: 0, r: 96 }, style: { fill: BLUE_FILL, stroke: BLUE_EDGE, lineWidth: 1.2, strokeNoScale: true } });
['Amplitude', 'ratio', 'Relation', '(B&C 17)'].forEach((s, i) => G.push(txt(656, 172 + i * 27, s, 20, { fill: '#fff' })));

// chart titles
G.push(txt(311, 167, 'PSD mean (LC)', 24));
G.push(txt(1009, 166, 'PSD mean (RV)', 24, { fill: '#FF2020' }));

// arrows between spectra
G.push(...arrow(442, 270, 391, 377, 3, 22, 10, 120));
G.push(...arrow(917, 273, 977, 377, 3, 22, 10, 120));
G.push(...arrow(444, 482, 490, 526, 3, 20, 9, 120));
G.push(...arrow(930, 482, 893, 527, 3, 20, 9, 120));

// realization caption
[[425, 540], [787, 925]].forEach(([a, b]) => G.push({ type: 'line', z: 120, silent: true, shape: { x1: a, y1: 330, x2: b, y2: 330 }, style: { stroke: '#595959', lineWidth: 3.2, lineDash: [0.1, 5.6], lineCap: 'round' } }));
G.push(txt(661, 323, '[Draw one realization]', 23, { weight: 'bold', fill: '#595959' }));
G.push(txt(654, 353, '(H&C 12)', 21, { weight: 'bold', fill: '#595959' }));

// randomized phases box and down arrow
G.push({ type: 'polygon', z: 110, silent: true, shape: { points: [[575, 560], [615, 560], [615, 588], [638, 588], [595, 617], [553, 588], [575, 588]] }, style: { fill: BLUE_FILL, stroke: BLUE_EDGE, lineWidth: 1 } });
G.push({ type: 'rect', z: 112, silent: true, shape: { x: 487, y: 498, width: 403, height: 67 }, style: { fill: '#fff', stroke: BLUE_EDGE, lineWidth: 4 } });
G.push(txt(688, 531, 'Randomized phases + Inverse FT', 24.5, { weight: 'bold', fill: '#2E75B6', z: 121 }));

// simulated series box
G.push({ type: 'rect', z: 110, silent: true, shape: { x: 70, y: 603, width: 235, height: 94, r: 14 }, style: { fill: BLUE_FILL, stroke: BLUE_EDGE, lineWidth: 1.2 } });
G.push(txt(84, 634, 'Simulated', 22, { fill: '#fff', align: 'left' }));
G.push(txt(84, 664, 'LC/RV time series', 22, { fill: '#fff', align: 'left' }));

// observing strategy arrow and bracket
G.push({ type: 'polygon', z: 110, silent: true, shape: { points: [[658, 641], [915, 641], [915, 627], [950, 655], [915, 683], [915, 668], [658, 668]] }, style: { fill: BLUE_FILL, stroke: BLUE_EDGE, lineWidth: 1 } });
G.push({ type: 'rect', z: 112, silent: true, shape: { x: 699, y: 601, width: 207, height: 106 }, style: { fill: '#fff' } });
G.push({ type: 'polyline', z: 113, silent: true, shape: { points: [[716, 604], [703, 606], [697, 617], [697, 691], [703, 702], [716, 704]], smooth: 0.3 }, style: { stroke: BLUE_FILL, lineWidth: 5, fill: null } });
G.push({ type: 'polyline', z: 113, silent: true, shape: { points: [[889, 604], [902, 606], [908, 617], [908, 691], [902, 702], [889, 704]], smooth: 0.3 }, style: { stroke: BLUE_FILL, lineWidth: 5, fill: null } });
G.push(txt(802, 633, 'observing strategy', 23, { style: 'italic', z: 121 }));
G.push(txt(802, 662, '(gaps, exposure time,', 20, { z: 121 }));
G.push(txt(802, 690, 'etc)', 20, { z: 121 }));

const chart = echarts.init(document.getElementById('chart'), null, { renderer: 'canvas' });
chart.setOption({
  backgroundColor: '#fff',
  animation: false,
  grid: grids,
  xAxis: xAxes,
  yAxis: yAxes,
  series,
  graphic: { elements: G }
});
</script>
</body>
</html>
